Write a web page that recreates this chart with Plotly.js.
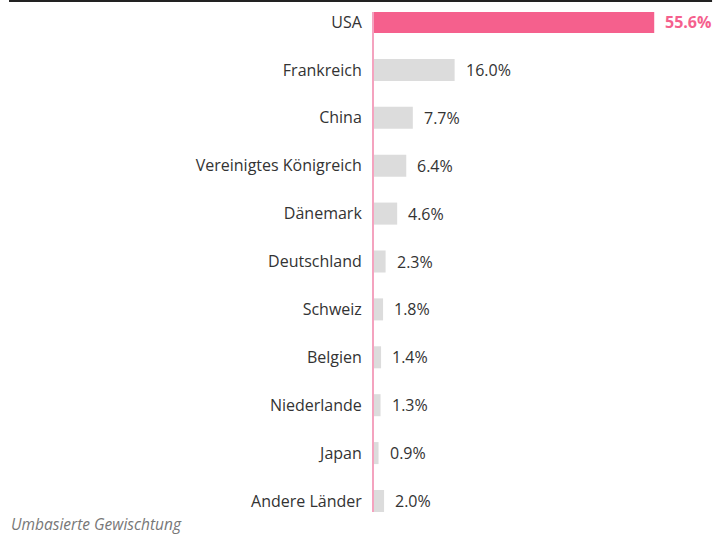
<!DOCTYPE html>
<html>
<head>
<meta charset="utf-8">
<script src="https://cdn.plot.ly/plotly-3.0.1.min.js"></script>
<style>html,body{margin:0;padding:0;background:#fff;}#chart{width:728px;height:534px;}</style>
</head>
<body>
<div id="chart"></div>
<script>
const categories = ["USA","Frankreich","China","Vereinigtes Königreich","Dänemark","Deutschland","Schweiz","Belgien","Niederlande","Japan","Andere Länder"];
const values = [55.6,16.0,7.7,6.4,4.6,2.3,1.8,1.4,1.3,0.9,2.0];
const labels = ["55.6%","16.0%","7.7%","6.4%","4.6%","2.3%","1.8%","1.4%","1.3%","0.9%","2.0%"];
const footnote = "Umbasierte Gewischtung";

const pink = "#f5608d";
const gray = "#dcdcdc";
const colors = values.map((v,i)=> i===0 ? pink : gray);

const trace = {
  type: "bar",
  orientation: "h",
  x: values,
  y: categories,
  marker: {color: colors},
  width: 0.46,
  hoverinfo: "none"
};

const annotations = values.map((v,i)=>({
  x: v, y: categories[i], xref: "x", yref: "y",
  text: i===0 ? "<b>"+labels[i]+"</b>" : labels[i],
  showarrow: false, xanchor: "left", yanchor: "middle", xshift: 9,
  font: {family: "Open Sans", size: 16, color: i===0 ? pink : "#333333"}
}));
annotations.push({
  x: -1.03, y: -0.024, xref: "paper", yref: "paper",
  text: "<i>"+footnote+"</i>", showarrow: false, xanchor: "left", yanchor: "middle",
  font: {family: "Open Sans", size: 15.5, color: "#777777"}
});

const layout = {
  width: 728, height: 534,
  margin: {l: 374, r: 0, t: 12, b: 22},
  paper_bgcolor: "#ffffff", plot_bgcolor: "#ffffff",
  showlegend: false,
  font: {family: "Open Sans", size: 16, color: "#333333"},
  xaxis: {range: [0, 70.24], showgrid: false, zeroline: false, showticklabels: false, showline: false, fixedrange: true},
  yaxis: {type: "category", range: [10.23, -0.209], showgrid: false, zeroline: false,
          showline: true, linecolor: "#f4a3bf", linewidth: 2, ticks: "", ticklabelstandoff: 7,
          tickfont: {family: "Open Sans", size: 16, color: "#333333"}, fixedrange: true},
  shapes: [{type: "line", xref: "paper", yref: "paper", x0: -1.031, x1: 0.955, y0: 1.022, y1: 1.022,
            line: {color: "#222222", width: 2}}],
  annotations: annotations
};

Plotly.newPlot("chart", [trace], layout, {displayModeBar: false, staticPlot: true});
</script>
</body>
</html>
